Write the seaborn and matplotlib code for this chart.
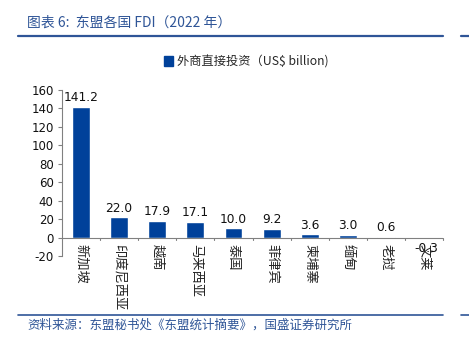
import matplotlib
matplotlib.use("Agg")
import matplotlib.pyplot as plt
import seaborn as sns
import pandas as pd
from matplotlib.lines import Line2D
from matplotlib.patches import Patch

countries = ["新加坡", "印度尼西亚", "越南", "马来西亚", "泰国", "菲律宾", "柬埔寨", "缅甸", "老挝", "文莱"]
fdi = [141.2, 22.0, 17.9, 17.1, 10.0, 9.2, 3.6, 3.0, 0.6, -0.3]
y_ticks = [-20, 0, 20, 40, 60, 80, 100, 120, 140, 160]
series_name = "外商直接投资（US$ billion)"
title = "图表 6:  东盟各国 FDI（2022 年）"
source = "资料来源：东盟秘书处《东盟统计摘要》，国盛证券研究所"

sns.set_theme(style="white")
plt.rcParams['font.family'] = ['Noto Sans CJK SC', 'DejaVu Sans']

BAR = "#00419A"
TXT_BLUE = "#2F5597"

df = pd.DataFrame({"country": countries, "fdi": fdi})

fig = plt.figure(figsize=(4.69, 3.47), dpi=100)
ax = fig.add_axes([0.132, 0.262, 0.813, 0.479])
sns.barplot(data=df, x="country", y="fdi", color=BAR, width=0.47, ax=ax, saturation=1)

ax.set_ylim(-20, 160)
ax.set_yticks(y_ticks)
ax.set_yticklabels([str(v) for v in y_ticks], fontsize=8.5, family='DejaVu Sans', color="#111111")
ax.set_xlim(-0.5, len(countries) - 0.5)
ax.set_xlabel("")
ax.set_ylabel("")

for s in ["top", "right", "bottom"]:
    ax.spines[s].set_visible(False)
ax.spines["left"].set_color("#808080")
ax.spines["left"].set_linewidth(0.8)
ax.axhline(0, color="#808080", lw=0.8, zorder=1)
ax.tick_params(axis="y", direction="out", length=3, width=0.8, color="#808080", pad=3, left=True)

# category separators on x-axis
ax.set_xticks(range(len(countries)))
ax.set_xticklabels([])
ax.tick_params(axis="x", length=0)
for i in range(len(countries)):
    ax.plot([i + 0.5, i + 0.5], [0, -2.5], color="#808080", lw=0.8, clip_on=False)

for i, (c, v) in enumerate(zip(countries, fdi)):
    ax.text(i, -6.5, c, rotation=270, ha="center", va="top", fontsize=9.5, color="#222222")
    if v >= 0:
        ax.text(i, v + 3, f"{v:.1f}", ha="center", va="bottom", fontsize=8.8, family='DejaVu Sans', color="#111111")
    else:
        ax.text(i + 0.05, v - 4, f"{v:.1f}", ha="center", va="top", fontsize=8.8, family='DejaVu Sans', color="#111111")

handles = [Patch(facecolor=BAR, edgecolor=BAR)]
fig.legend(handles, [series_name], loc="center", bbox_to_anchor=(0.525, 0.822), frameon=False,
           fontsize=8.8, handlelength=0.8, handleheight=0.8, handletextpad=0.3)

fig.text(0.058, 0.935, title, fontsize=10, color=TXT_BLUE, style="italic", va="center")
fig.add_artist(Line2D([0.038, 0.945], [0.896, 0.896], color=TXT_BLUE, lw=1.6))
fig.add_artist(Line2D([0.983, 1.0], [0.896, 0.896], color=TXT_BLUE, lw=1.6))
fig.add_artist(Line2D([0.038, 0.945], [0.092, 0.092], color=TXT_BLUE, lw=1.2))
fig.add_artist(Line2D([0.983, 1.0], [0.092, 0.092], color=TXT_BLUE, lw=1.2))
fig.text(0.058, 0.063, source, fontsize=9, color=TXT_BLUE, style="italic", va="center")

fig.savefig("out.png", dpi=100)
